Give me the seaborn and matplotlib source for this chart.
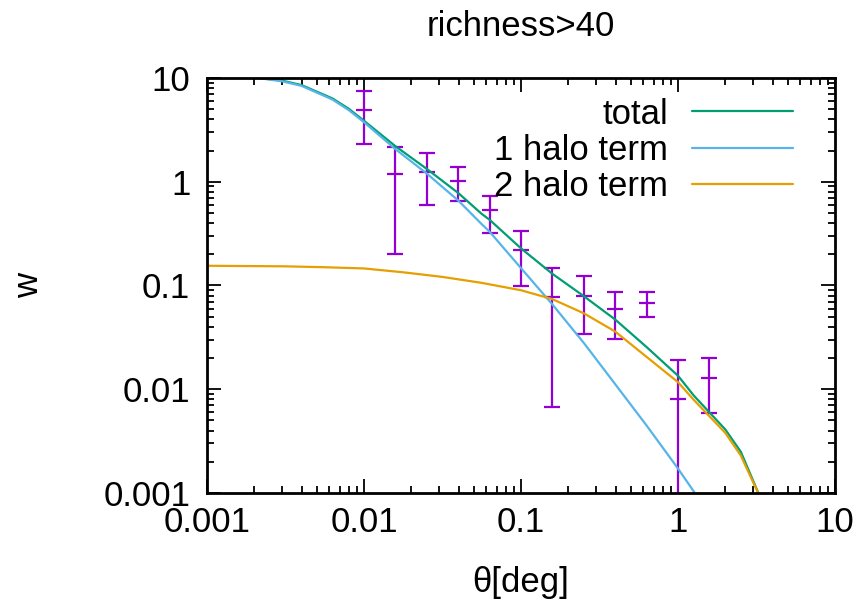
import numpy as np
import pandas as pd
import matplotlib
matplotlib.use("Agg")
import matplotlib.pyplot as plt
import seaborn as sns

# ---- data ----
theta_obs = [0.01, 0.0158, 0.0251, 0.0398, 0.0631, 0.1, 0.158, 0.251, 0.398, 0.631, 1.0, 1.585]
w_obs     = [4.9, 1.19, 1.24, 1.02, 0.53, 0.22, 0.0775, 0.079, 0.059, 0.068, 0.008, 0.0129]
w_hi      = [7.5, 2.16, 1.89, 1.39, 0.73, 0.335, 0.148, 0.124, 0.0865, 0.086, 0.0191, 0.020]
w_lo      = [2.3, 0.20, 0.60, 0.65, 0.32, 0.099, 0.00675, 0.034, 0.0305, 0.0495, 1e-5, 0.0059]

theta_1h = [0.00211, 0.003, 0.004, 0.0063, 0.008, 0.01, 0.0158, 0.0251, 0.0398, 0.0562, 0.0631,
            0.1, 0.158, 0.251, 0.398, 0.631, 1.0, 1.28]
w_1h     = [10.0, 9.3, 8.4, 6.2, 4.9, 3.75, 2.07, 1.2, 0.66, 0.39, 0.33,
            0.147, 0.066, 0.028, 0.0112, 0.00447, 0.00172, 0.001]

theta_2h = [0.001, 0.00316, 0.00562, 0.01, 0.0178, 0.0316, 0.0562, 0.1, 0.158, 0.251, 0.398,
            0.631, 1.0, 1.26, 2.0, 2.51, 3.24]
w_2h     = [0.155, 0.153, 0.150, 0.146, 0.134, 0.121, 0.106, 0.090, 0.074, 0.054, 0.036,
            0.0205, 0.0117, 0.0079, 0.0038, 0.0023, 0.001]

theta_tot = [0.00211, 0.003, 0.004, 0.0063, 0.008, 0.01, 0.0158, 0.0251, 0.0398, 0.0562, 0.0631,
             0.1, 0.158, 0.251, 0.398, 0.631, 1.0, 1.26, 2.0, 2.51, 3.25]
w_tot     = [10.0, 9.45, 8.55, 6.35, 5.05, 3.87, 2.21, 1.33, 0.78, 0.49, 0.43,
             0.228, 0.13, 0.079, 0.047, 0.0255, 0.0135, 0.0087, 0.0041, 0.0025, 0.001]

labels = ["total", "1 halo term", "2 halo term"]
colors = ["#009E73", "#56B4E9", "#E69F00"]
err_color = "#9400D3"
tick_vals = [0.001, 0.01, 0.1, 1, 10]
tick_text = ["0.001", "0.01", "0.1", "1", "10"]

sns.set_style("white")
plt.rcParams["font.family"] = ["Liberation Sans", "DejaVu Sans"]
plt.rcParams["font.size"] = 25
plt.rcParams["text.color"] = "black"
plt.rcParams["axes.labelcolor"] = "black"
plt.rcParams["xtick.color"] = "black"
plt.rcParams["ytick.color"] = "black"

fig = plt.figure(figsize=(8.61, 6.01), dpi=100)
ax = fig.add_axes([207/861, 108/601, 628/861, 415/601])

curves = [(theta_tot, w_tot), (theta_1h, w_1h), (theta_2h, w_2h)]
for (xs, ys), lab, col in zip(curves, labels, colors):
    df = pd.DataFrame({"theta": xs, "w": ys})
    sns.lineplot(data=df, x="theta", y="w", ax=ax, color=col, lw=1.6,
                 label=lab, sort=False, estimator=None)

yo = np.array(w_obs)
yerr = np.vstack([yo - np.array(w_lo), np.array(w_hi) - yo])
ax.errorbar(theta_obs, w_obs, yerr=yerr, fmt="_", color=err_color, ms=11,
            mew=1.6, elinewidth=1.6, capsize=5.5, capthick=1.6, zorder=1)

ax.set_xscale("log")
ax.set_yscale("log")
ax.set_xlim(0.001, 10)
ax.set_ylim(0.001, 10)

ax.set_xticks(tick_vals)
ax.set_xticklabels(tick_text)
ax.set_yticks(tick_vals)
ax.set_yticklabels(tick_text)
ax.xaxis.set_minor_locator(matplotlib.ticker.LogLocator(base=10, subs=np.arange(2, 10), numticks=20))
ax.yaxis.set_minor_locator(matplotlib.ticker.LogLocator(base=10, subs=np.arange(2, 10), numticks=20))
ax.xaxis.set_minor_formatter(matplotlib.ticker.NullFormatter())
ax.yaxis.set_minor_formatter(matplotlib.ticker.NullFormatter())

ax.tick_params(which="both", direction="in", top=True, right=True, bottom=True, left=True,
               color="black", width=1.3)
ax.tick_params(which="major", length=10)
ax.tick_params(which="minor", length=5)
ax.tick_params(axis="y", which="major", pad=12, labelsize=25, labelcolor="black")
ax.tick_params(axis="x", which="major", pad=9, labelsize=25, labelcolor="black")

for sp in ax.spines.values():
    sp.set_color("black")
    sp.set_linewidth(2)
    sp.set_visible(True)

ax.set_xlabel("θ[deg]", fontsize=25, labelpad=20, color="black")
ax.set_ylabel("w", fontsize=25, labelpad=42, color="black")
ax.set_title("richness>40", fontsize=25, pad=30, color="black")

leg = ax.legend(loc="upper right", bbox_to_anchor=(0.933, 0.953), frameon=False,
                markerfirst=False, handlelength=2.9, handletextpad=0.7,
                labelspacing=0.1, borderaxespad=0, borderpad=0, fontsize=25)
for t in leg.get_texts():
    t.set_ha("right")
    t.set_color("black")

fig.savefig("out.png", dpi=100)
